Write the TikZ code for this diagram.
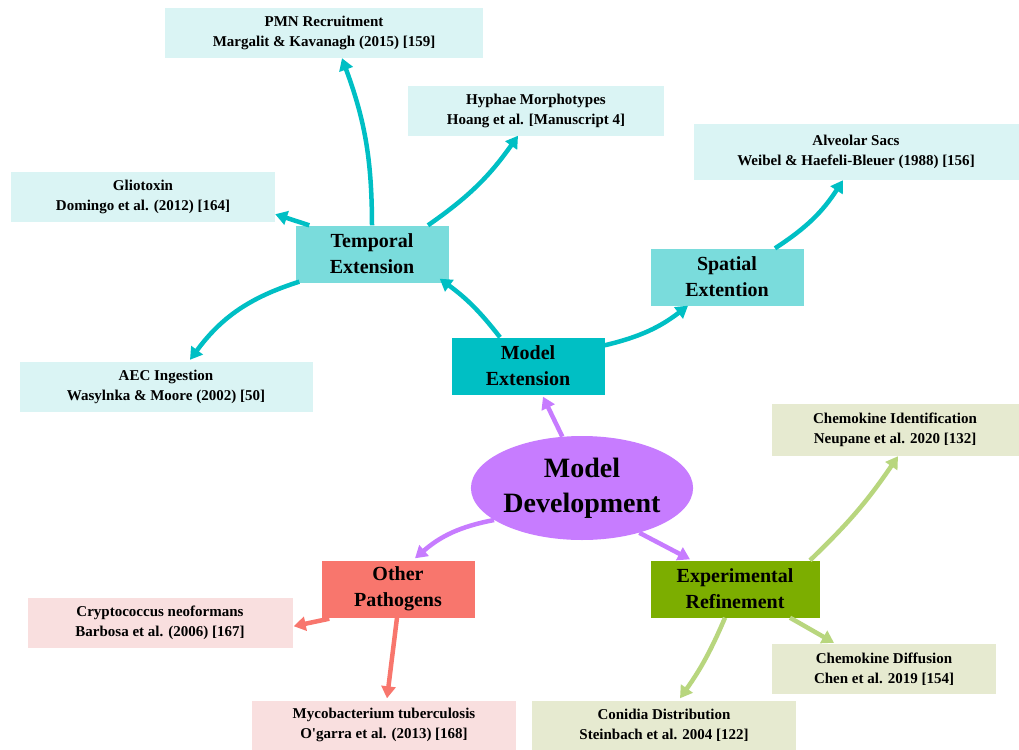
\documentclass[tikz,border=0pt]{standalone}
\usepackage{fontspec}
\setmainfont{Liberation Serif}
\usetikzlibrary{arrows.meta,shapes.geometric}
\definecolor{tealD}{HTML}{00BFC4}
\definecolor{tealM}{HTML}{7ADCDC}
\definecolor{tealL}{HTML}{DAF4F4}
\definecolor{purp}{HTML}{C77CFF}
\definecolor{salm}{HTML}{F8766D}
\definecolor{pinkL}{HTML}{F9DFDF}
\definecolor{grnD}{HTML}{7CAE00}
\definecolor{grnA}{HTML}{B8D67E}
\definecolor{oliveL}{HTML}{E6EAD0}
\tikzset{
  leaf/.style={rectangle, inner sep=0pt, align=center, font=\bfseries\fontsize{15}{20}\selectfont},
  mainbox/.style={rectangle, inner sep=0pt, align=center, minimum width=153pt, minimum height=57pt, font=\bfseries\fontsize{20}{26}\selectfont},
  arr/.style={line width=4.5pt, -{Triangle[length=12pt,width=14pt]}},
  tarr/.style={arr, draw=tealD},
  parr/.style={arr, draw=purp},
  sarr/.style={arr, draw=salm},
  garr/.style={arr, draw=grnA}
}
\begin{document}
\begin{tikzpicture}[x=1pt,y=-1pt]
\useasboundingbox (0,0) rectangle (1019,749);
% leaf boxes
\node[leaf, fill=tealL, minimum width=318pt, minimum height=50pt] (pmn) at (324,33) {PMN Recruitment\\Margalit \& Kavanagh (2015) [159]};
\node[leaf, fill=tealL, minimum width=256pt, minimum height=49pt] (hyp) at (536,111) {Hyphae Morphotypes\\Hoang et al. [Manuscript 4]};
\node[leaf, fill=tealL, minimum width=325pt, minimum height=56pt] (alv) at (856,152) {Alveolar Sacs\\Weibel \& Haefeli-Bleuer (1988) [156]};
\node[leaf, fill=tealL, minimum width=264pt, minimum height=50pt] (gli) at (143,197) {Gliotoxin\\Domingo et al. (2012) [164]};
\node[leaf, fill=tealL, minimum width=293pt, minimum height=50pt] (aec) at (166,387) {AEC Ingestion\\Wasylnka \& Moore (2002) [50]};
\node[leaf, fill=oliveL, minimum width=247pt, minimum height=52pt] (cid) at (895,430) {Chemokine Identification\\Neupane et al. 2020 [132]};
\node[leaf, fill=oliveL, minimum width=224pt, minimum height=50pt] (cdf) at (884,669) {Chemokine Diffusion\\Chen et al. 2019 [154]};
\node[leaf, fill=oliveL, minimum width=264pt, minimum height=49pt] (con) at (664,725) {Conidia Distribution\\Steinbach et al. 2004 [122]};
\node[leaf, fill=pinkL, minimum width=265pt, minimum height=50pt] (cry) at (160,623) {Cryptococcus neoformans\\Barbosa et al. (2006) [167]};
\node[leaf, fill=pinkL, minimum width=264pt, minimum height=49pt] (myc) at (384,725) {Mycobacterium tuberculosis\\O\textquotesingle garra et al. (2013) [168]};
% main boxes
\node[mainbox, fill=tealM] (te) at (372,254) {Temporal\\Extension};
\node[mainbox, fill=tealM] (se) at (727,277) {Spatial\\Extention};
\node[mainbox, fill=tealD] (me) at (528,366) {Model\\Extension};
\node[mainbox, fill=salm] (op) at (398,589) {Other\\Pathogens};
\node[mainbox, fill=grnD, minimum width=169pt] (er) at (735,589) {Experimental\\Refinement};
\node[ellipse, fill=purp, minimum width=220pt, minimum height=104pt, inner sep=0pt, align=center, font=\bfseries\fontsize{28}{35}\selectfont] (md) at (582,488) {Model\\Development};
% connectors
\draw[tarr] ([xshift=-28pt]me.north) to[bend right=8] ([xshift=-9pt,yshift=4pt]te.south east);
\draw[tarr] ([yshift=-8pt]me.north east) to[bend right=12] ([xshift=-39pt]se.south);
\draw[tarr] (te.north) to[bend right=10] ([xshift=18pt]pmn.south);
\draw[tarr] ([xshift=56pt]te.north) to[bend right=10] ([xshift=-18pt]hyp.south);
\draw[tarr] ([xshift=14pt]te.north west) -- ([yshift=8pt]gli.south east);
\draw[tarr] ([xshift=4pt,yshift=1pt]te.south west) to[bend right=18] ([xshift=24pt,yshift=2pt]aec.north);
\draw[tarr] ([xshift=48pt]se.north) to[bend right=12] ([xshift=-13pt]alv.south);
\draw[parr] (md.111) -- ([xshift=15pt,yshift=-2pt]me.south);
\draw[parr] (md.200) to[bend right=15] ([xshift=17pt,yshift=2pt]op.north);
\draw[parr] (md.322) -- ([xshift=-45pt,yshift=1pt]er.north);
\draw[garr] ([xshift=75pt]er.north) to[bend right=6] ([xshift=3pt]cid.south);
\draw[garr] ([xshift=55pt]er.south) -- ([xshift=-50pt,yshift=1pt]cdf.north);
\draw[garr] ([xshift=-10pt]er.south) to[bend left=6] ([xshift=16pt,yshift=2pt]con.north);
\draw[sarr] ([xshift=8pt,yshift=-1pt]op.south west) -- ([xshift=1pt,yshift=22pt]cry.south east);
\draw[sarr] ([xshift=-1pt]op.south) -- ([xshift=3pt,yshift=2pt]myc.north);
\end{tikzpicture}
\end{document}
